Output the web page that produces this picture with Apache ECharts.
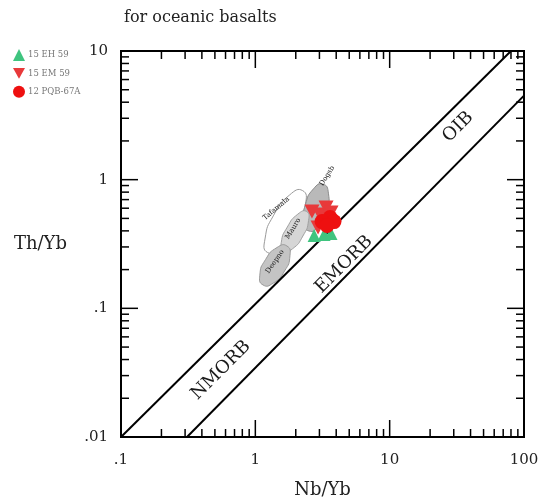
<!DOCTYPE html>
<html>
<head>
<meta charset="utf-8">
<script src="https://cdn.jsdelivr.net/npm/echarts@6/dist/echarts.min.js"></script>
<style>
  html, body { margin: 0; padding: 0; background: #fff; }
  #chart { width: 542px; height: 504px; }
</style>
</head>
<body>
<div id="chart"></div>
<script>
// Axis ranges and tick labels (log scales)
const xMin = 0.1, xMax = 100, yMin = 0.01, yMax = 10;
const xTickLabels = { 0.1: '.1', 1: '1', 10: '10', 100: '100' };
const yTickLabels = { 0.01: '.01', 0.1: '.1', 1: '1', 10: '10' };
const xMajorTicks = [1, 10];
const xMinorTicks = [0.2, 0.3, 0.4, 0.5, 0.6, 0.7, 0.8, 0.9, 2, 3, 4, 5, 6, 7, 8, 9, 20, 30, 40, 50, 60, 70, 80, 90];
const yMajorTicks = [0.1, 1];
const yMinorTicks = [0.02, 0.03, 0.04, 0.05, 0.06, 0.07, 0.08, 0.09, 0.2, 0.3, 0.4, 0.5, 0.6, 0.7, 0.8, 0.9, 2, 3, 4, 5, 6, 7, 8, 9];

// MORB-OIB array boundaries [Nb/Yb, Th/Yb]
const upperBoundary = [[0.1, 0.01], [80, 10]];
const lowerBoundary = [[0.31, 0.01], [100, 4.5]];

// Array labels and their anchor points
const arrayLabelNames = ['NMORB', 'EMORB', 'OIB'];
const arrayLabelPos = [[0.556, 0.033], [4.57, 0.219], [32.3, 2.57]];

// Reference fields (vertices in Nb/Yb, Th/Yb)
const fieldOutline = [[2.25, 0.822], [2.36, 0.645], [2.02, 0.422], [1.55, 0.295], [1.23, 0.272], [1.18, 0.346], [1.37, 0.530], [1.79, 0.757]];
const fieldTop = [[3.19, 0.922], [3.50, 0.785], [3.39, 0.574], [2.96, 0.434], [2.51, 0.399], [2.29, 0.469], [2.36, 0.641], [2.71, 0.849]];
const fieldMiddle = [[2.41, 0.565], [2.49, 0.481], [2.26, 0.365], [1.89, 0.290], [1.62, 0.277], [1.56, 0.325], [1.73, 0.428], [2.07, 0.539]];
const fieldBottom = [[1.72, 0.305], [1.81, 0.256], [1.65, 0.195], [1.36, 0.157], [1.14, 0.152], [1.08, 0.181], [1.19, 0.239], [1.45, 0.297]];
const fieldLabelNames = ['Dogsb', 'Tafamala', 'Mauro', 'Deepno'];
const fieldLabelPos = [[3.42, 1.07], [1.43, 0.596], [1.91, 0.417], [1.40, 0.231]];
const fieldLabelAngles = [58, 40, 58, 55];

// Samples [Nb/Yb, Th/Yb]
const seriesNames = ['15 EH 59', '15 EM 59', '12 PQB-67A'];
const samplesEH = [[2.74, 0.368], [3.25, 0.375], [3.66, 0.381]];
const samplesEM = [[2.64, 0.565], [3.03, 0.535], [3.36, 0.607], [2.93, 0.425], [3.66, 0.555]];
const samplesPQB = [[3.14, 0.472], [3.60, 0.508], [3.85, 0.472], [3.42, 0.440]];

const SERIF = '"DejaVu Serif", "Liberation Serif", serif';
const downTri = 'path://M0,0 L10,0 L5,9 Z';

function polygonSeries(points, fill, stroke) {
  return {
    type: 'custom',
    silent: true,
    data: [points[0]],
    renderItem: function (params, api) {
      const pts = points.map(p => api.coord(p));
      return {
        type: 'polygon',
        shape: { points: pts, smooth: 0.6 },
        style: { fill: fill, stroke: stroke, lineWidth: 1 }
      };
    },
    z: 2
  };
}

function textSeries(names, positions, angles, font, z) {
  return {
    type: 'custom',
    silent: true,
    data: positions.map((p, i) => [p[0], p[1], i]),
    renderItem: function (params, api) {
      const i = api.value(2);
      const c = api.coord([api.value(0), api.value(1)]);
      return {
        type: 'text',
        x: c[0], y: c[1],
        rotation: angles[i] * Math.PI / 180,
        style: {
          text: names[i], font: font, fill: '#1a1a1a',
          align: 'center', verticalAlign: 'middle'
        }
      };
    },
    z: z
  };
}

// Tick marks on all four sides, pointing inward
const tickData = []
  .concat(xMinorTicks.map(v => [v, yMin, 0]))
  .concat(xMajorTicks.map(v => [v, yMin, 1]))
  .concat(yMinorTicks.map(v => [xMin, v, 2]))
  .concat(yMajorTicks.map(v => [xMin, v, 3]));

const tickSeries = {
  type: 'custom',
  silent: true,
  clip: false,
  data: tickData,
  renderItem: function (params, api) {
    const v0 = api.value(0), v1 = api.value(1), kind = api.value(2);
    const len = (kind === 1 || kind === 3) ? 17 : 8;
    const st = { stroke: '#000', lineWidth: 1.5 };
    if (kind < 2) {
      const b = api.coord([v0, yMin]);
      const t = api.coord([v0, yMax]);
      return { type: 'group', children: [
        { type: 'line', shape: { x1: b[0], y1: b[1], x2: b[0], y2: b[1] - len }, style: st },
        { type: 'line', shape: { x1: t[0], y1: t[1], x2: t[0], y2: t[1] + len }, style: st }
      ]};
    }
    const l = api.coord([xMin, v1]);
    const r = api.coord([xMax, v1]);
    return { type: 'group', children: [
      { type: 'line', shape: { x1: l[0], y1: l[1], x2: l[0] + len, y2: l[1] }, style: st },
      { type: 'line', shape: { x1: r[0], y1: r[1], x2: r[0] - len, y2: r[1] }, style: st }
    ]};
  },
  z: 5
};

const chart = echarts.init(document.getElementById('chart'), null, { renderer: 'canvas' });
chart.setOption({
  backgroundColor: '#fff',
  animation: false,
  title: {
    text: 'for oceanic basalts',
    left: 119, top: 5,
    textStyle: { fontFamily: SERIF, fontSize: 16, fontWeight: 'normal', color: '#222' }
  },
  legend: {
    orient: 'vertical',
    left: 8, top: 44,
    itemWidth: 12, itemHeight: 12, itemGap: 7,
    textStyle: { fontFamily: SERIF, fontSize: 8.5, color: '#777', padding: [0, 0, 0, -2] },
    data: [
      { name: seriesNames[0], icon: 'triangle' },
      { name: seriesNames[1], icon: downTri },
      { name: seriesNames[2], icon: 'circle' }
    ]
  },
  grid: { left: 121, right: 18, top: 51, bottom: 66, show: true, borderColor: '#000', borderWidth: 2 },
  xAxis: {
    type: 'log', logBase: 10, min: xMin, max: xMax,
    name: 'Nb/Yb', nameLocation: 'middle', nameGap: 44,
    nameTextStyle: { fontFamily: SERIF, fontSize: 18, color: '#222' },
    axisLine: { show: true, lineStyle: { color: '#000', width: 2 } },
    axisTick: { show: false },
    splitLine: { show: false },
    axisLabel: {
      margin: 16, fontFamily: SERIF, fontSize: 15, color: '#222',
      formatter: v => xTickLabels[+v.toPrecision(3)] || ''
    }
  },
  yAxis: {
    type: 'log', logBase: 10, min: yMin, max: yMax,
    name: 'Th/Yb', nameLocation: 'middle', nameGap: 54, nameRotate: 0,
    nameTextStyle: { fontFamily: SERIF, fontSize: 18, color: '#222', align: 'right' },
    axisLine: { show: true, lineStyle: { color: '#000', width: 2 } },
    axisTick: { show: false },
    splitLine: { show: false },
    axisLabel: {
      margin: 13, fontFamily: SERIF, fontSize: 15, color: '#222',
      formatter: v => yTickLabels[+v.toPrecision(3)] || ''
    }
  },
  series: [
    tickSeries,
    polygonSeries(fieldOutline, 'rgba(255,255,255,0)', '#9a9a9a'),
    polygonSeries(fieldTop, '#b9b9b9', '#8c8c8c'),
    polygonSeries(fieldMiddle, '#d6d6d6', '#a0a0a0'),
    polygonSeries(fieldBottom, '#c4c4c4', '#9a9a9a'),
    textSeries(fieldLabelNames, fieldLabelPos, fieldLabelAngles, '7px ' + SERIF, 3),
    {
      type: 'line', data: upperBoundary, symbol: 'none', silent: true,
      lineStyle: { color: '#000', width: 2 }, z: 4
    },
    {
      type: 'line', data: lowerBoundary, symbol: 'none', silent: true,
      lineStyle: { color: '#000', width: 2 }, z: 4
    },
    textSeries(arrayLabelNames, arrayLabelPos, [45, 45, 45], '18px ' + SERIF, 4),
    {
      name: seriesNames[0], type: 'scatter', data: samplesEH,
      symbol: 'triangle', symbolSize: 13,
      itemStyle: { color: '#3fc47f', opacity: 1 }, z: 6
    },
    {
      name: seriesNames[1], type: 'scatter', data: samplesEM,
      symbol: downTri, symbolSize: [15, 14],
      itemStyle: { color: '#e8393a', opacity: 1 }, z: 7
    },
    {
      name: seriesNames[2], type: 'scatter', data: samplesPQB,
      symbol: 'circle', symbolSize: 15,
      itemStyle: { color: '#ee1010', opacity: 1 }, z: 8
    }
  ]
});
</script>
</body>
</html>
